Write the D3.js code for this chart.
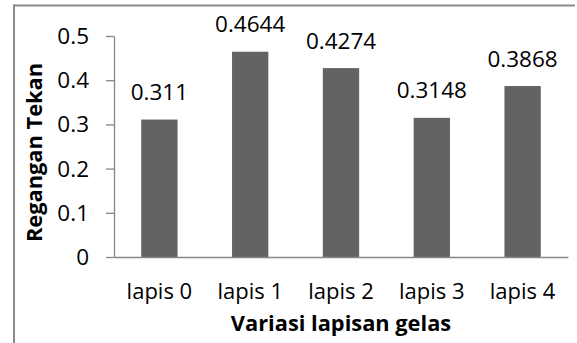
<!DOCTYPE html>
<html>
<head>
<meta charset="utf-8">
<script src="https://cdn.jsdelivr.net/npm/d3@7"></script>
<style>
html,body{margin:0;padding:0;background:#fff;}
svg{display:block;}
text{font-family:"Open Sans",sans-serif;fill:#000;}
</style>
</head>
<body>
<div id="chart"></div>
<script>
const categories = ["lapis 0", "lapis 1", "lapis 2", "lapis 3", "lapis 4"];
const values = [0.311, 0.4644, 0.4274, 0.3148, 0.3868];
const valueLabels = ["0.311", "0.4644", "0.4274", "0.3148", "0.3868"];
const yTicks = [0, 0.1, 0.2, 0.3, 0.4, 0.5];
const yTickLabels = ["0", "0.1", "0.2", "0.3", "0.4", "0.5"];
const yTitle = "Regangan Tekan";
const xTitle = "Variasi lapisan gelas";

const W = 577, H = 343;
const plot = {left: 114, right: 568, top: 36, bottom: 257};
const axisColor = "#878787";
const barColor = "#636363";

const svg = d3.select("#chart").append("svg").attr("width", W).attr("height", H);

// outer frame (cropped)
svg.append("line").attr("x1", 14).attr("x2", 14).attr("y1", 4.5).attr("y2", H)
  .attr("stroke", "#8a8a8a").attr("stroke-width", 2);
svg.append("line").attr("x1", 13).attr("x2", 575).attr("y1", 5.5).attr("y2", 5.5)
  .attr("stroke", "#8a8a8a").attr("stroke-width", 2);

const x = d3.scaleBand().domain(categories).range([plot.left, plot.right])
  .paddingInner(0.6).paddingOuter(0.3);
const y = d3.scaleLinear().domain([0, 0.5]).range([plot.bottom, plot.top]);

// bars
svg.append("g").selectAll("rect").data(values).join("rect")
  .attr("x", (d, i) => x(categories[i]))
  .attr("y", d => y(d))
  .attr("width", x.bandwidth())
  .attr("height", d => y(0) - y(d))
  .attr("fill", barColor);

// y axis
const yAxis = d3.axisLeft(y).tickValues(yTicks).tickSize(8).tickSizeOuter(0).tickFormat(() => "");
const gy = svg.append("g").attr("transform", `translate(${plot.left},0)`).call(yAxis);
gy.select(".domain").attr("stroke", axisColor).attr("stroke-width", 1.3);
gy.selectAll(".tick line").attr("stroke", axisColor).attr("stroke-width", 1.3);

// x axis
const xAxis = d3.axisBottom(x).tickSize(0).tickSizeOuter(0).tickFormat(() => "");
const gx = svg.append("g").attr("transform", `translate(0,${plot.bottom})`).call(xAxis);
gx.select(".domain").attr("stroke", axisColor).attr("stroke-width", 1.3);

function label(tx, ty, str, opts) {
  const rot = opts.rotate ? ` rotate(${opts.rotate})` : "";
  return svg.append("text")
    .attr("transform", `translate(${tx},${ty})${rot}`)
    .attr("text-anchor", opts.anchor || "middle")
    .attr("font-size", opts.size)
    .attr("font-weight", opts.weight || "normal")
    .text(str);
}

// y tick labels
yTicks.forEach((t, i) => label(89, y(t) + 8, yTickLabels[i], {anchor: "end", size: 22.5}));

// category labels
categories.forEach(c => label(x(c) + x.bandwidth() / 2, 299, c, {size: 22}));

// value labels
values.forEach((v, i) => label(x(categories[i]) + x.bandwidth() / 2, y(v) - 19.5, valueLabels[i], {size: 22.5}));

// axis titles
label((plot.left + plot.right) / 2, 331, xTitle, {size: 21.8, weight: "bold"});
label(42, 152.5, yTitle, {size: 21.8, weight: "bold", rotate: -90});
</script>
</body>
</html>
